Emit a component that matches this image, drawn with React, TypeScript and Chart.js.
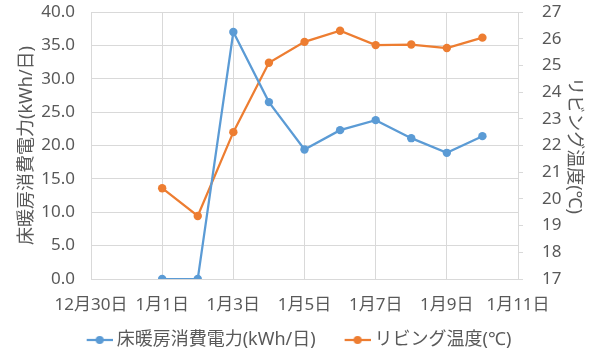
import React, { useEffect, useRef } from "react";
import { Chart, registerables } from "chart.js";

Chart.register(...registerables);

// ---- data ----
const dateLabels = ["1月1日", "1月2日", "1月3日", "1月4日", "1月5日", "1月6日", "1月7日", "1月8日", "1月9日", "1月10日"];
const dayIndex = [0, 1, 2, 3, 4, 5, 6, 7, 8, 9];
const floorHeatingKWh = [0.0, 0.0, 37.0, 26.5, 19.4, 22.3, 23.8, 21.1, 18.9, 21.4];
const livingTempC = [20.4, 19.36, 22.5, 25.1, 25.88, 26.3, 25.76, 25.78, 25.65, 26.04];
const xTickValues = [-2, 0, 2, 4, 6, 8, 10];
const xTickLabels = ["12月30日", "1月1日", "1月3日", "1月5日", "1月7日", "1月9日", "1月11日"];
const seriesNames = ["床暖房消費電力(kWh/日)", "リビング温度(℃)"];
const leftAxisTitle = "床暖房消費電力(kWh/日)";
const rightAxisTitle = "リビング温度(℃)";

const BLUE = "#5b9bd5";
const ORANGE = "#ed7d31";
const GRID = "#d9d9d9";
const TEXT = "#595959";
const FONT = '"Noto Sans", "Noto Sans CJK JP", sans-serif';

// legend marker: a short line with a dot, drawn in the right part of a wider image
function legendMarker(color: string): HTMLCanvasElement {
  const c = document.createElement("canvas");
  c.width = 48;
  c.height = 10;
  const ctx = c.getContext("2d")!;
  ctx.strokeStyle = color;
  ctx.lineWidth = 2.25;
  ctx.beginPath();
  ctx.moveTo(22, 5);
  ctx.lineTo(48, 5);
  ctx.stroke();
  ctx.fillStyle = color;
  ctx.beginPath();
  ctx.arc(35, 5, 4, 0, Math.PI * 2);
  ctx.fill();
  return c;
}

export default function App() {
  const ref = useRef<HTMLCanvasElement | null>(null);

  useEffect(() => {
    document.body.style.margin = "0";
    if (!ref.current) return;
    const markers = [legendMarker(BLUE), legendMarker(ORANGE)];
    const chart = new Chart(ref.current, {
      type: "line",
      data: {
        datasets: [
          {
            label: seriesNames[0],
            data: dayIndex.map((d, i) => ({ x: d, y: floorHeatingKWh[i] })),
            borderColor: BLUE,
            backgroundColor: BLUE,
            pointBackgroundColor: BLUE,
            pointBorderColor: BLUE,
            borderWidth: 2.25,
            pointRadius: 4.2,
            pointBorderWidth: 0,
            yAxisID: "y",
            tension: 0,
          },
          {
            label: seriesNames[1],
            data: dayIndex.map((d, i) => ({ x: d, y: livingTempC[i] })),
            borderColor: ORANGE,
            backgroundColor: ORANGE,
            pointBackgroundColor: ORANGE,
            pointBorderColor: ORANGE,
            borderWidth: 2.25,
            pointRadius: 4.2,
            pointBorderWidth: 0,
            yAxisID: "y1",
            tension: 0,
          },
        ],
      },
      options: {
        responsive: false,
        animation: false,
        layout: { padding: { top: 12, left: 0, right: 0, bottom: 0 } },
        plugins: {
          tooltip: { enabled: false },
          legend: {
            position: "bottom",
            labels: {
              usePointStyle: true,
              pointStyleWidth: 38,
              padding: 12,
              color: TEXT,
              font: { family: FONT, size: 18 },
              generateLabels: (ch: any) =>
                ch.data.datasets.map((ds: any, i: number) => ({
                  text: i === ch.data.datasets.length - 1 ? ds.label + "   " : ds.label,
                  fillStyle: ds.borderColor,
                  strokeStyle: ds.borderColor,
                  fontColor: TEXT,
                  pointStyle: markers[i],
                  datasetIndex: i,
                  hidden: false,
                  lineWidth: 0,
                })),
            },
          },
        },
        scales: {
          x: {
            type: "linear",
            min: -2,
            max: 10,
            afterBuildTicks: (scale: any) => {
              scale.ticks = xTickValues.map((v) => ({ value: v }));
            },
            ticks: {
              color: TEXT,
              font: { family: FONT, size: 17 },
              padding: 16,
              maxRotation: 0,
              autoSkip: false,
              callback: (v: any) => {
                const i = xTickValues.indexOf(Number(v));
                return i >= 0 ? xTickLabels[i] : "";
              },
            },
            grid: { color: GRID, drawTicks: false, lineWidth: 1 },
            border: { color: GRID },
            afterFit: (scale: any) => {
              scale.height = 40;
              scale.paddingLeft = 0;
              scale.paddingRight = 0;
            },
          },
          y: {
            position: "left",
            min: 0,
            max: 40,
            ticks: {
              stepSize: 5,
              color: TEXT,
              font: { family: FONT, size: 17 },
              padding: 16,
              callback: (v: any) => Number(v).toFixed(1),
            },
            grid: { color: GRID, drawTicks: false },
            border: { color: GRID },
            title: {
              display: true,
              text: leftAxisTitle,
              color: TEXT,
              font: { family: FONT, size: 18 },
              padding: { top: 16, bottom: 0 },
            },
            afterFit: (scale: any) => {
              scale.width = 91;
              scale.paddingTop = 0;
              scale.paddingBottom = 0;
            },
          },
          y1: {
            position: "right",
            min: 17,
            max: 27,
            ticks: {
              stepSize: 1,
              color: TEXT,
              font: { family: FONT, size: 17 },
              padding: 19,
            },
            grid: { drawOnChartArea: false, color: GRID, drawTicks: true, tickLength: 5 },
            border: { color: GRID },
            title: {
              display: true,
              text: rightAxisTitle,
              color: TEXT,
              font: { family: FONT, size: 18 },
              padding: { top: 10, bottom: 0 },
            },
            afterFit: (scale: any) => {
              scale.width = 77;
              scale.paddingTop = 0;
              scale.paddingBottom = 0;
            },
          },
        },
      },
    });
    return () => chart.destroy();
  }, []);

  return (
    <div style={{ width: 595, height: 359, background: "#fff" }}>
      <canvas ref={ref} width={595} height={359} />
    </div>
  );
}
